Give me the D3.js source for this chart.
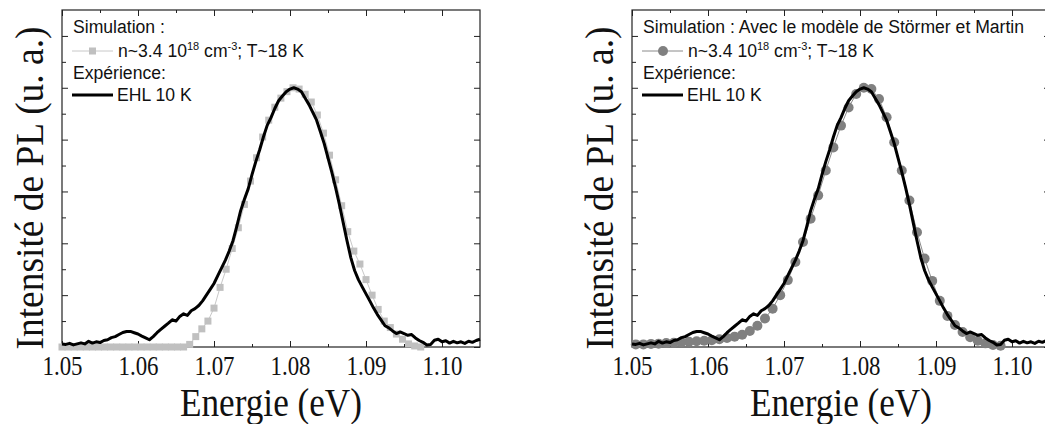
<!DOCTYPE html>
<html><head><meta charset="utf-8">
<script src="https://cdn.jsdelivr.net/npm/d3@7"></script>
<style>body{margin:0;background:#fff}svg{display:block}</style>
</head><body>
<svg id="c" width="1045" height="424"></svg>
<script>
// ---------- data ----------
const xTickLabels = ["1.05","1.06","1.07","1.08","1.09","1.10"];
const xMajor = [1.05,1.06,1.07,1.08,1.09,1.10];
const xMinor = [1.055,1.065,1.075,1.085,1.095];
const yMajor = [0,0.2,0.4,0.6,0.8,1.0,1.2];
const yMinor = [0.1,0.3,0.5,0.7,0.9,1.1];

// Experimental EHL 10 K spectrum (normalised)
const expE = [1.0500,1.0505,1.0510,1.0515,1.0520,1.0525,1.0530,1.0535,1.0540,1.0545,1.0550,1.0555,1.0560,1.0565,1.0570,1.0575,1.0580,1.0585,1.0590,1.0595,1.0600,1.0605,1.0610,1.0615,1.0620,1.0625,1.0630,1.0635,1.0640,1.0645,1.0650,1.0655,1.0660,1.0665,1.0670,1.0675,1.0680,1.0685,1.0690,1.0695,1.0700,1.0705,1.0710,1.0715,1.0720,1.0725,1.0730,1.0735,1.0740,1.0745,1.0750,1.0755,1.0760,1.0765,1.0770,1.0775,1.0780,1.0785,1.0790,1.0795,1.0800,1.0805,1.0810,1.0815,1.0820,1.0825,1.0830,1.0835,1.0840,1.0845,1.0850,1.0855,1.0860,1.0865,1.0870,1.0875,1.0880,1.0885,1.0890,1.0895,1.0900,1.0905,1.0910,1.0915,1.0920,1.0925,1.0930,1.0935,1.0940,1.0945,1.0950,1.0955,1.0960,1.0965,1.0970,1.0975,1.0980,1.0985,1.0990,1.0995,1.1000,1.1005,1.1010,1.1015,1.1020,1.1025,1.1030,1.1035,1.1040,1.1045,1.1050];
const expV = [0.012,0.010,0.014,0.008,0.012,0.016,0.012,0.022,0.015,0.020,0.017,0.025,0.028,0.036,0.040,0.048,0.056,0.060,0.060,0.055,0.050,0.042,0.035,0.028,0.040,0.055,0.068,0.080,0.092,0.105,0.100,0.118,0.128,0.122,0.140,0.148,0.160,0.178,0.200,0.222,0.245,0.275,0.305,0.335,0.370,0.410,0.465,0.525,0.570,0.610,0.665,0.715,0.760,0.810,0.855,0.885,0.920,0.950,0.968,0.985,0.995,1.000,0.995,0.985,0.960,0.935,0.905,0.875,0.830,0.785,0.730,0.675,0.615,0.550,0.480,0.410,0.345,0.295,0.260,0.232,0.205,0.178,0.150,0.125,0.104,0.082,0.074,0.062,0.052,0.058,0.052,0.045,0.048,0.035,0.025,0.018,0.008,0.010,0.026,0.030,0.020,0.024,0.015,0.022,0.016,0.020,0.014,0.022,0.018,0.025,0.030];

// Simulation (left): n~3.4e18 cm-3, T~18 K
const simAE = [1.0500,1.0508,1.0516,1.0524,1.0532,1.0540,1.0548,1.0556,1.0564,1.0572,1.0580,1.0588,1.0596,1.0604,1.0612,1.0620,1.0628,1.0636,1.0644,1.0652,1.0660,1.0668,1.0676,1.0684,1.0692,1.0700,1.0708,1.0716,1.0724,1.0732,1.0740,1.0748,1.0756,1.0764,1.0772,1.0780,1.0788,1.0796,1.0804,1.0812,1.0820,1.0828,1.0836,1.0844,1.0852,1.0860,1.0868,1.0876,1.0884,1.0892,1.0900,1.0908,1.0916,1.0924,1.0932,1.0940,1.0948,1.0956,1.0964,1.0972];
const simAV = [0,0,0,0,0,0,0,0,0,0,0,0,0,0,0,0,0,0,0,0,0,0.010,0.040,0.070,0.100,0.150,0.230,0.300,0.380,0.460,0.550,0.640,0.730,0.810,0.875,0.925,0.960,0.985,1.000,0.995,0.975,0.945,0.895,0.825,0.740,0.645,0.545,0.445,0.370,0.320,0.260,0.200,0.145,0.100,0.075,0.050,0.030,0.012,0.004,0];

// Simulation (right): Störmer & Martin model
const simBE = [1.0505,1.0515,1.0525,1.0535,1.0545,1.0555,1.0565,1.0575,1.0585,1.0595,1.0605,1.0615,1.0625,1.0635,1.0645,1.0655,1.0665,1.0675,1.0685,1.0695,1.0705,1.0715,1.0725,1.0735,1.0745,1.0755,1.0765,1.0775,1.0785,1.0795,1.0805,1.0815,1.0825,1.0835,1.0845,1.0855,1.0865,1.0875,1.0885,1.0895,1.0905,1.0915,1.0925,1.0935,1.0945,1.0955,1.0965,1.0975,1.0985];
const simBV = [0.010,0.010,0.012,0.013,0.015,0.016,0.018,0.020,0.022,0.024,0.026,0.030,0.035,0.040,0.047,0.062,0.082,0.110,0.148,0.200,0.258,0.328,0.405,0.495,0.585,0.681,0.770,0.854,0.924,0.976,1.000,0.995,0.957,0.886,0.790,0.681,0.565,0.443,0.341,0.255,0.178,0.120,0.085,0.058,0.038,0.024,0.014,0.008,0.005];

const legendA = {title:"Simulation :", sim:"n~3.4 10", exp:"Expérience:", expName:"EHL 10 K"};
const legendB = {title:"Simulation : Avec le modèle de Störmer et Martin", sim:"n~3.4 10", exp:"Expérience:", expName:"EHL 10 K"};

// ---------- drawing ----------
const svg = d3.select("#c");
const serif = "'Liberation Serif','Times New Roman',serif";
const sans = "'Liberation Sans',Arial,sans-serif";
const yTop = 10, yBot = 347;

const panels = [
  {left:62, right:480, simE:simAE, simV:simAV, marker:"square", col:"#c0c0c0", lineCol:"#c8c8c8", leg:legendA},
  {left:632, right:1050, simE:simBE, simV:simBV, marker:"circle", col:"#808080", lineCol:"#8a8a8a", leg:legendB}
];

panels.forEach(p => {
  const x = d3.scaleLinear().domain([1.05,1.105]).range([p.left,p.right]);
  const y = d3.scaleLinear().domain([0,1.3]).range([yBot,yTop]);
  const g = svg.append("g");

  const ax = (a, t) => g.append("g").attr("transform", t).call(a).call(s=>s.select(".domain").remove());
  const xb = ax(d3.axisBottom(x).tickValues(xMajor).tickSize(-6).tickPadding(8).tickFormat((d,i)=>xTickLabels[i]), `translate(0,${yBot})`);
  xb.attr("font-family",serif).attr("font-size",28);
  xb.selectAll("text").style("font-family",serif).style("font-size","28px").style("fill","#111")
    .attr("textLength",40).attr("lengthAdjust","spacingAndGlyphs");
  ax(d3.axisBottom(x).tickValues(xMinor).tickSize(-3).tickFormat(""), `translate(0,${yBot})`);
  ax(d3.axisTop(x).tickValues(xMajor).tickSize(-6).tickFormat(""), `translate(0,${yTop})`);
  ax(d3.axisTop(x).tickValues(xMinor).tickSize(-3).tickFormat(""), `translate(0,${yTop})`);
  ax(d3.axisLeft(y).tickValues(yMajor).tickSize(-6).tickFormat(""), `translate(${p.left},0)`);
  ax(d3.axisLeft(y).tickValues(yMinor).tickSize(-4).tickFormat(""), `translate(${p.left},0)`);
  ax(d3.axisRight(y).tickValues(yMajor).tickSize(-6).tickFormat(""), `translate(${p.right},0)`);
  ax(d3.axisRight(y).tickValues(yMinor).tickSize(-4).tickFormat(""), `translate(${p.right},0)`);
  g.selectAll(".tick line").attr("stroke","#222");

  g.append("rect").attr("x",p.left).attr("y",yTop).attr("width",p.right-p.left).attr("height",yBot-yTop)
    .attr("fill","none").attr("stroke","#222").attr("stroke-width",1.2);

  const simPts = p.simE.map((e,i)=>[e,p.simV[i]]);
  g.append("path").datum(simPts).attr("fill","none").attr("stroke",p.lineCol).attr("stroke-width",1)
    .attr("d", d3.line().x(d=>x(d[0])).y(d=>y(d[1])));
  if (p.marker==="square") {
    g.selectAll(".m").data(simPts).enter().append("rect")
      .attr("x",d=>x(d[0])-3.5).attr("y",d=>y(d[1])-3.5).attr("width",7).attr("height",7).attr("fill",p.col);
  } else {
    g.selectAll(".m").data(simPts).enter().append("circle")
      .attr("cx",d=>x(d[0])).attr("cy",d=>y(d[1])).attr("r",5).attr("fill",p.col);
  }

  const expPts = expE.map((e,i)=>[e,expV[i]]);
  g.append("path").datum(expPts).attr("fill","none").attr("stroke","#000").attr("stroke-width",3)
    .attr("stroke-linejoin","round").attr("d", d3.line().x(d=>x(d[0])).y(d=>y(d[1])));

  svg.append("text").attr("x",(p.left+p.right)/2).attr("y",416).attr("text-anchor","middle")
    .style("font-family",serif).style("font-size","39px").attr("fill","#111")
    .attr("textLength",182).attr("lengthAdjust","spacingAndGlyphs").text("Energie (eV)");
  svg.append("text").attr("transform",`translate(${p.left-19},188) rotate(-90)`).attr("text-anchor","middle")
    .style("font-family",serif).style("font-size","40px").attr("fill","#111")
    .attr("textLength",323).attr("lengthAdjust","spacingAndGlyphs").text("Intensité de PL (u. a.)");

  const lx = p.left + 11, fs = 17.6;
  const L = svg.append("g").style("font-family",sans).style("font-size",fs+"px").attr("fill","#111");
  L.append("text").attr("x",lx).attr("y",33).text(p.leg.title);
  L.append("line").attr("x1",lx-1).attr("x2",lx+40).attr("y1",51).attr("y2",51).attr("stroke",p.lineCol).attr("stroke-width",1);
  if (p.marker==="square") L.append("rect").attr("x",lx+16).attr("y",47.5).attr("width",7).attr("height",7).attr("fill",p.col);
  else L.append("circle").attr("cx",lx+20).attr("cy",51).attr("r",5).attr("fill",p.col);
  const t2 = L.append("text").attr("x",lx+45).attr("y",57);
  t2.append("tspan").text(p.leg.sim);
  t2.append("tspan").attr("dy",-7).style("font-size","11px").text("18");
  t2.append("tspan").attr("dy",7).text(" cm");
  t2.append("tspan").attr("dy",-7).style("font-size","11px").text("-3");
  t2.append("tspan").attr("dy",7).text("; T~18 K");
  L.append("text").attr("x",lx).attr("y",79).text(p.leg.exp);
  L.append("line").attr("x1",lx-1).attr("x2",lx+40).attr("y1",95).attr("y2",95).attr("stroke","#000").attr("stroke-width",3);
  L.append("text").attr("x",lx+44).attr("y",101).text(p.leg.expName);
});
</script>
</body></html>
